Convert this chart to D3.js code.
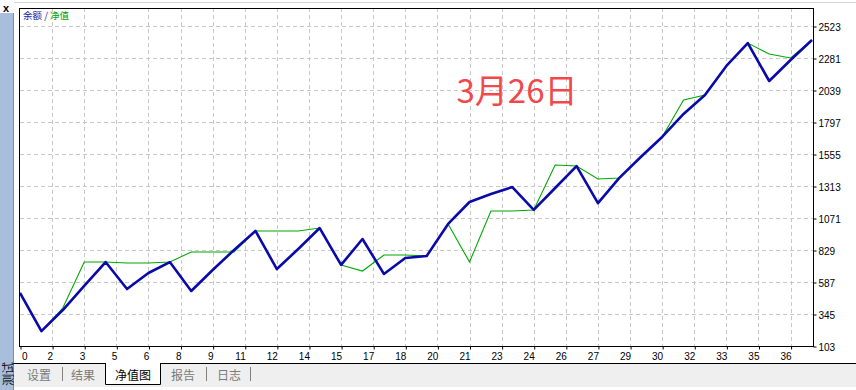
<!DOCTYPE html>
<meta charset="utf-8">
<head>
<style>
html, body{margin:0px; padding:0px; background:white;}
svg text {font-family: "Liberation Sans", Arial, sans-serif;}
.cjk {font-family: "Noto Sans CJK SC", sans-serif;}
</style>
</head>
<script src="https://d3js.org/d3.v7.min.js"></script>

<div id="my_dataviz"></div>

<script>

// balance (blue) and equity (green), one value per trade
var balance = [504,216,375,557,738,534,655,738,519,678,829,973,685,837,995,716,912,648,769,784,
  1026,1192,1253,1305,1132,1298,1464,1184,1374,1532,1684,1858,2001,2221,2394,2107,2266,2417]
var equity = [504,216,390,738,738,731,731,738,814,814,814,973,973,973,995,716,670,791,791,784,
  1026,738,1124,1124,1132,1472,1464,1366,1374,1532,1684,1963,2001,2221,2394,2311,2281,2417]

var yTicks = [103,345,587,829,1071,1313,1555,1797,2039,2281,2523]
var xTicks = [0,1.5,3,4.5,6,7.5,9,10.5,12,13.5,15,16.5,18,19.5,21,22.5,24,25.5,27,28.5,30,31.5,33,34.5,36]
var xLabels = ["0","2","3","5","6","8","9","11","12","14","15","17","18","20","21","23","24","26","27","29","30","32","33","35","36"]
var tabs = ["设置","结果","净值图","报告","日志"]

var W = 856, H = 390
var plot = {left: 20, right: 813, top: 8, bottom: 346}

var svg = d3.select("#my_dataviz")
  .append("svg")
    .attr("width", W)
    .attr("height", H)

// left side bar
svg.append("rect").attr("x",0).attr("y",13).attr("width",13).attr("height",H-13).style("fill","#a7bfdc")
svg.append("line").attr("x1",13.5).attr("x2",13.5).attr("y1",13).attr("y2",H).style("stroke","#8a8a8a")
svg.append("text").attr("x",6).attr("y",8).attr("text-anchor","middle").attr("dominant-baseline","central")
  .style("font-size","11px").style("font-weight","bold").text("x")
svg.append("text").attr("class","cjk")
  .attr("transform","translate(7,374) rotate(-90)")
  .attr("text-anchor","middle").attr("dominant-baseline","central")
  .style("font-size","12px").style("fill","#111").text("测试")
svg.append("line").attr("x1",14).attr("x2",W).attr("y1",2.5).attr("y2",2.5).style("stroke","#d4d4d4")

// scales
var x = d3.scaleLinear().domain([0, balance.length-1]).range([plot.left, 812])
var y = d3.scaleLinear().domain([103, 2523]).range([plot.bottom, 26])

// grid
var grid = svg.append("g").style("stroke","#c8c8c8").style("stroke-dasharray","4,3")
grid.selectAll("line.h").data(yTicks.slice(1)).enter().append("line")
  .attr("x1",plot.left).attr("x2",plot.right)
  .attr("y1",function(d){return Math.round(y(d))+0.5}).attr("y2",function(d){return Math.round(y(d))+0.5})
grid.selectAll("line.v").data(xTicks.slice(1)).enter().append("line")
  .attr("y1",plot.top).attr("y2",plot.bottom)
  .attr("x1",function(d){return Math.round(x(d))+0.5}).attr("x2",function(d){return Math.round(x(d))+0.5})

// lines
var line = d3.line().x(function(d,i){return x(i)}).y(function(d){return y(d)})
svg.append("path").datum(equity).attr("d",line)
  .style("fill","none").style("stroke","#00a800").style("stroke-width",1.1)
svg.append("path").datum(balance).attr("d",line)
  .style("fill","none").style("stroke","#0a0aaa").style("stroke-width",2.6).style("stroke-linejoin","round")

// frame
svg.append("rect").attr("x",plot.left-0.5).attr("y",plot.top+0.5)
  .attr("width",plot.right-plot.left+1).attr("height",plot.bottom-plot.top)
  .style("fill","none").style("stroke","#000")

// right axis
var yAxis = svg.append("g")
  .attr("transform","translate(" + (plot.right+0.5) + ",0.5)")
  .call(d3.axisRight(y).tickValues(yTicks).tickSize(3).tickPadding(2).tickFormat(d3.format("d")))
yAxis.select(".domain").remove()
yAxis.selectAll("text").style("font-size","10px").style("fill","#000").attr("dy","0.4em")

// bottom axis
var xAxis = svg.append("g")
  .attr("transform","translate(0.5," + (plot.bottom+0.5) + ")")
  .call(d3.axisBottom(x).tickValues(xTicks).tickSize(3).tickPadding(3)
    .tickFormat(function(d,i){return xLabels[i]}))
xAxis.select(".domain").remove()
xAxis.selectAll("text").style("font-size","10px").style("fill","#000")
  .attr("text-anchor",function(d,i){return i==0 ? "start" : "end"})
  .attr("dx",function(d,i){return i==0 ? "1px" : "0px"})

// legend
var leg = svg.append("text").attr("class","cjk").attr("x",23).attr("y",19).style("font-size","9.5px")
leg.append("tspan").style("fill","#2020a0").text("余额")
leg.append("tspan").style("fill","#2020a0").text(" / ")
leg.append("tspan").style("fill","#00a000").text("净值")

// date note
svg.append("text").attr("class","cjk").attr("x",517).attr("y",89)
  .attr("text-anchor","middle").attr("dominant-baseline","central")
  .style("font-size","33px").style("fill","#f2484b").text("3月26日")

// tab bar
svg.append("rect").attr("x",14).attr("y",363).attr("width",W-14).attr("height",24).style("fill","#efefef")
svg.append("line").attr("x1",14).attr("x2",W).attr("y1",363.5).attr("y2",363.5).style("stroke","#000")
svg.append("path").attr("d","M105.5,363 V384.5 H160.5 V363")
  .style("fill","#fff").style("stroke","#000")
svg.append("line").attr("x1",106).attr("x2",160).attr("y1",363.5).attr("y2",363.5).style("stroke","#fff")

var tabX = [39, 83, 133, 183, 229]
var sepX = [62, 206, 250]
svg.selectAll("text.tab").data(tabs).enter().append("text")
  .attr("class","cjk")
  .attr("x",function(d,i){return tabX[i]}).attr("y",374)
  .attr("text-anchor","middle").attr("dominant-baseline","central")
  .style("font-size","12px")
  .style("fill",function(d,i){return i==2 ? "#000" : "#7a7a7a"})
  .text(function(d){return d})
svg.selectAll("line.sep").data(sepX).enter().append("line")
  .attr("x1",function(d){return d+0.5}).attr("x2",function(d){return d+0.5})
  .attr("y1",367).attr("y2",381).style("stroke","#808080")

</script>
</html>
